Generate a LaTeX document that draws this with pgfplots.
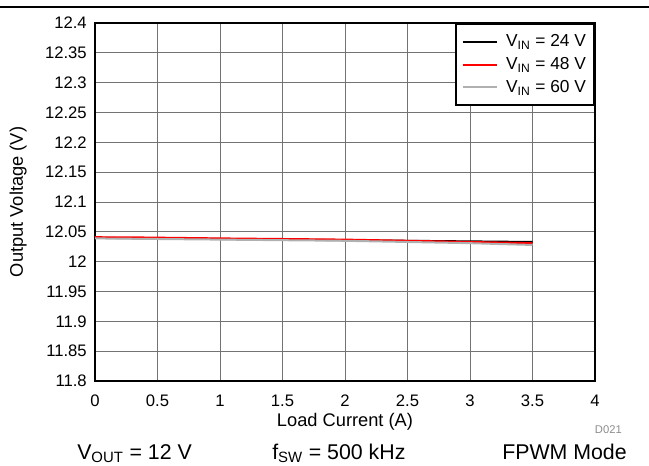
\documentclass[border=0pt]{standalone}
\usepackage{fontspec}
\setmainfont{Liberation Sans}
\usepackage{pgfplots}
\pgfplotsset{compat=1.18}
\begin{document}
\begin{tikzpicture}
\useasboundingbox (0,0) rectangle (486.75pt,348.75pt);
\draw[line width=1pt] (0,343.5pt) -- (486.75pt,343.5pt);
\begin{axis}[
  at={(71.25pt,63pt)}, anchor=south west,
  scale only axis, width=375pt, height=268.5pt,
  xmin=0, xmax=4, ymin=11.8, ymax=12.4,
  xtick={0,0.5,1,1.5,2,2.5,3,3.5,4},
  xticklabels={0,0.5,1,1.5,2,2.5,3,3.5,4},
  ytick={11.8,11.85,11.9,11.95,12,12.05,12.1,12.15,12.2,12.25,12.3,12.35,12.4},
  yticklabels={11.8,11.85,11.9,11.95,12,12.05,12.1,12.15,12.2,12.25,12.3,12.35,12.4},
  major tick length=0pt,
  tick label style={font=\fontsize{12.5}{14}\selectfont},
  xticklabel style={anchor=north, inner sep=0pt, yshift=-10.5pt},
  yticklabel style={anchor=east, inner sep=0pt, xshift=-6pt},
  grid=major,
  major grid style={line width=0.75pt, color=black!55},
  axis line style={line width=1.6pt},
  xlabel={Load Current (A)},
  ylabel={Output Voltage (V)},
  label style={font=\fontsize{13.7}{15}\selectfont},
  xlabel style={at={(axis description cs:0.5,-0.1145)}, anchor=center},
  ylabel style={at={(axis description cs:-0.1537,0.5)}, anchor=center},
  legend style={at={(rel axis cs:1,1)}, anchor=north east, draw=black, line width=1.6pt,
    fill=white, font=\fontsize{13}{15}\selectfont, row sep=2.5pt,
    inner xsep=4pt, inner ysep=6pt,
    /tikz/every odd column/.append style={column sep=4pt}},
  legend cell align=left,
  legend image code/.code={\draw[#1] (0pt,0pt) -- (26pt,0pt);},
]
\addplot[black, line width=1.5pt] coordinates {
(0,12.040) (0.5,12.039) (1,12.038) (1.5,12.037) (2,12.036) (2.5,12.035) (3,12.034) (3.5,12.033)};
\addlegendentry{V\textsubscript{IN} = 24 V}
\addplot[red, line width=1.5pt] coordinates {
(0,12.041) (0.4,12.0405) (1,12.039) (1.5,12.038) (2,12.037) (2.5,12.035) (3,12.033) (3.5,12.031)};
\addlegendentry{V\textsubscript{IN} = 48 V}
\addplot[color={rgb,255:red,176;green,176;blue,176}, line width=1.5pt] coordinates {
(0,12.039) (0.5,12.038) (1,12.037) (1.5,12.036) (2,12.035) (2.5,12.033) (3,12.031) (3.5,12.028)};
\addlegendentry{V\textsubscript{IN} = 60 V}
\end{axis}
\node[anchor=base west, inner sep=0pt, font=\fontsize{16}{18}\selectfont] at (57.75pt,4.5pt) {V\textsubscript{OUT} = 12 V};
\node[anchor=base west, inner sep=0pt, font=\fontsize{16}{18}\selectfont] at (204pt,4.5pt) {f\textsubscript{SW} = 500 kHz};
\node[anchor=base east, inner sep=0pt, font=\fontsize{16}{18}\selectfont] at (470.25pt,4.5pt) {FPWM Mode};
\node[anchor=base east, inner sep=0pt, font=\fontsize{8.4}{10}\selectfont, text=black!45] at (466.5pt,23.5pt) {D021};
\end{tikzpicture}
\end{document}
